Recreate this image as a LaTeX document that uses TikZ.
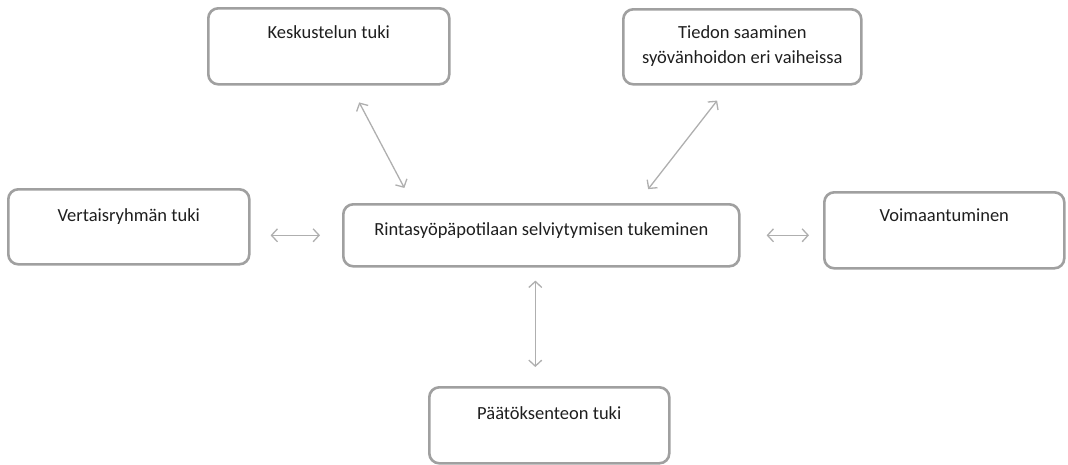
\documentclass[tikz,border=0pt]{standalone}
\usepackage{fontspec}
\setmainfont{Carlito}
\usetikzlibrary{arrows.meta}
\definecolor{boxgray}{RGB}{160,160,160}
\definecolor{arrgray}{RGB}{175,175,175}
\definecolor{txt}{RGB}{30,30,30}
\begin{document}
\begin{tikzpicture}[x=1pt,y=-1pt,
  box/.style={draw=boxgray, line width=2.6pt, rounded corners=10pt, anchor=north west,
    inner sep=0pt, align=center, text=txt, font=\fontsize{18.5}{25}\selectfont},
  conn/.style={draw=arrgray, line width=1.3pt,
    {Straight Barb[length=6pt,width=13pt,line width=1.3pt]}-{Straight Barb[length=6pt,width=13pt,line width=1.3pt]}}
]
\useasboundingbox (0,0) rectangle (1068,464);
\node[box, minimum width=241pt, text height=30pt, text depth=46pt] (k) at (207,7) {Keskustelun tuki};
\node[box, minimum width=238pt, text height=54pt, text depth=21pt] (t) at (622,8) {Tiedon saaminen\\syövänhoidon eri vaiheissa};
\node[box, minimum width=241pt, text height=32pt, text depth=43pt] (v) at (7,188) {Vertaisryhmän tuki};
\node[box, minimum width=396pt, text height=31pt, text depth=31pt] (c) at (342,203) {Rintasyöpäpotilaan selviytymisen tukeminen};
\node[box, minimum width=240pt, text height=29pt, text depth=47pt] (o) at (823,191) {Voimaantuminen};
\node[box, minimum width=240pt, text height=32pt, text depth=44pt] (p) at (428,386) {Päätöksenteon tuki};

\draw[conn, shorten <=19pt, shorten >=17pt] ([xshift=21.5pt]k.south) -- ([xshift=-129pt]c.north);
\draw[conn, shorten <=19pt, shorten >=17.6pt] ([xshift=-13.5pt]t.south) -- ([xshift=96pt]c.north);
\draw[conn, shorten <=22pt, shorten >=20pt] (c.west) -- (v.east |- c.west);
\draw[conn, shorten <=26pt, shorten >=14pt] (c.east) -- (o.west |- c.east);
\draw[conn, shorten <=13pt, shorten >=19pt] ([xshift=-6pt]c.south) -- ([xshift=-6pt]c.south |- p.north);
\end{tikzpicture}
\end{document}
